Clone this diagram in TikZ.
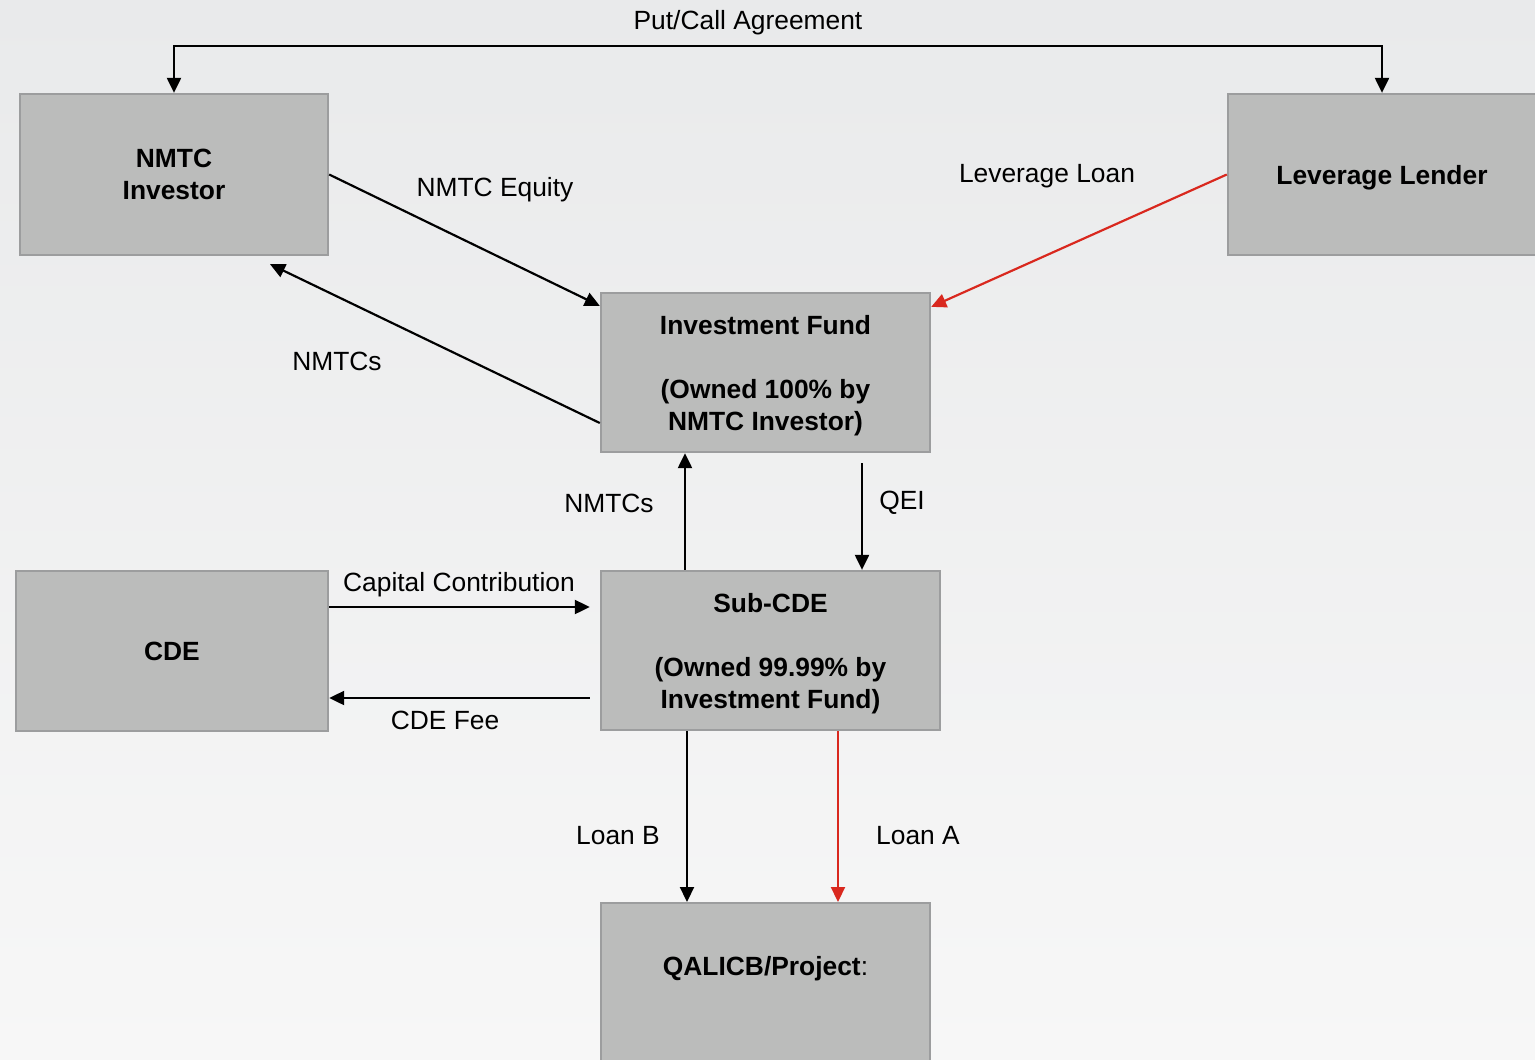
\documentclass[tikz,border=0pt]{standalone}
\usepackage{fontspec}
\setmainfont{Liberation Sans}
\usetikzlibrary{arrows.meta,calc}

\definecolor{boxfill}{HTML}{BBBCBB}
\definecolor{boxline}{HTML}{9C9D9E}
\definecolor{loanred}{HTML}{D9281E}

\tikzset{
	entity/.style = {draw = boxline, line width = 0.022cm, fill = boxfill, text depth = 0pt,
		font = \fontsize{7.5}{9.1}\selectfont\bfseries, align = center, inner sep = 0pt},
	flow/.style = {line width = 0.62pt, -{Triangle[length = 0.15cm, width = 0.14cm]}},
	flowlbl/.style = {font = \fontsize{7.5}{9.1}\selectfont, inner sep = 0pt, yshift = -0.03cm}
}

\begin{document}
\begin{tikzpicture}[x = 0.01cm, y = -0.01cm]

	\useasboundingbox (0, 0) rectangle (1535, 1060);
	\shade[top color = {rgb,255:red,233;green,234;blue,235}, bottom color = {rgb,255:red,247;green,247;blue,247}] (0, 0) rectangle (1535, 1060);

	% boxes:
	\node[entity, minimum width = 3.08cm, minimum height = 1.61cm] (investor) at (174, 174.5) {NMTC\\Investor};
	\node[entity, minimum width = 3.08cm, minimum height = 1.61cm] (lender) at (1382, 174.5) {Leverage Lender};
	\node[entity, minimum width = 3.29cm, minimum height = 1.59cm] (fund) at (765.5, 372.5) {Investment Fund\\[9.1pt](Owned 100\% by\\NMTC Investor)};
	\node[entity, minimum width = 3.12cm, minimum height = 1.60cm] (cde) at (172, 651) {CDE};
	\node[entity, minimum width = 3.39cm, minimum height = 1.59cm] (subcde) at (770.5, 650.5) {Sub-CDE\\[9.1pt](Owned 99.99\% by\\Investment Fund)};
	\node[entity, minimum width = 3.29cm, minimum height = 1.80cm, anchor = north] (project) at (765.5, 902) {};
	\node[flowlbl] (projtxt) at (765.5, 966) {\textbf{QALICB/Project}:};

	% helper coordinates
	\coordinate (ytop) at (0, 46);
	\coordinate (xnmtc) at (685, 0);
	\coordinate (xqei) at (862, 0);
	\coordinate (ycap) at (0, 607);
	\coordinate (yfee) at (0, 698);
	\coordinate (xloanb) at (687, 0);
	\coordinate (xloana) at (838, 0);

	% put/call
	\draw[flow, {Triangle[length = 0.15cm, width = 0.14cm]}-{Triangle[length = 0.15cm, width = 0.14cm]}]
		(investor.north) -- (investor.north |- ytop) -- (lender.north |- ytop) -- (lender.north);
	\node[flowlbl] (putcall) at (748, 20) {Put/Call Agreement};

	% equity and credits
	\draw[flow] (investor.east) -- ($(fund.north west) + (0, 14)$);
	\node[flowlbl] (equitylbl) at (495, 187) {NMTC Equity};
	\draw[flow] ($(fund.west) + (0, 50.5)$) -- ($(investor.south) + (96, 8)$);
	\node[flowlbl] (creditslbl) at (337, 358) {NMTCs};
	\draw[flow, draw = loanred, fill = loanred] (lender.west) -- ($(fund.north east) + (0, 15)$);
	\node[flowlbl] (leveragelbl) at (1047, 173) {Leverage Loan};

	% fund <-> sub-cde
	\draw[flow] (subcde.north -| xnmtc) -- (fund.south -| xnmtc);
	\node[flowlbl] (subcreditslbl) at (609, 500) {NMTCs};
	\draw[flow] ($(fund.south -| xqei) + (0, 10)$) -- (subcde.north -| xqei);
	\node[flowlbl] (qeilbl) at (902, 500) {QEI};

	% cde <-> sub-cde
	\draw[flow] (cde.east |- ycap) -- ($(subcde.west |- ycap) + (-10, 0)$);
	\node[flowlbl] (capitallbl) at (459, 582) {Capital Contribution};
	\draw[flow] ($(subcde.west |- yfee) + (-10, 0)$) -- (cde.east |- yfee);
	\node[flowlbl] (feelbl) at (445, 717) {CDE Fee};

	% loans
	\draw[flow] (subcde.south -| xloanb) -- (project.north -| xloanb);
	\node[flowlbl] (loanblbl) at (618, 833) {Loan B};
	\draw[flow, draw = loanred, fill = loanred] (subcde.south -| xloana) -- (project.north -| xloana);
	\node[flowlbl] (loanalbl) at (918, 833) {Loan A};

\end{tikzpicture}
\end{document}
